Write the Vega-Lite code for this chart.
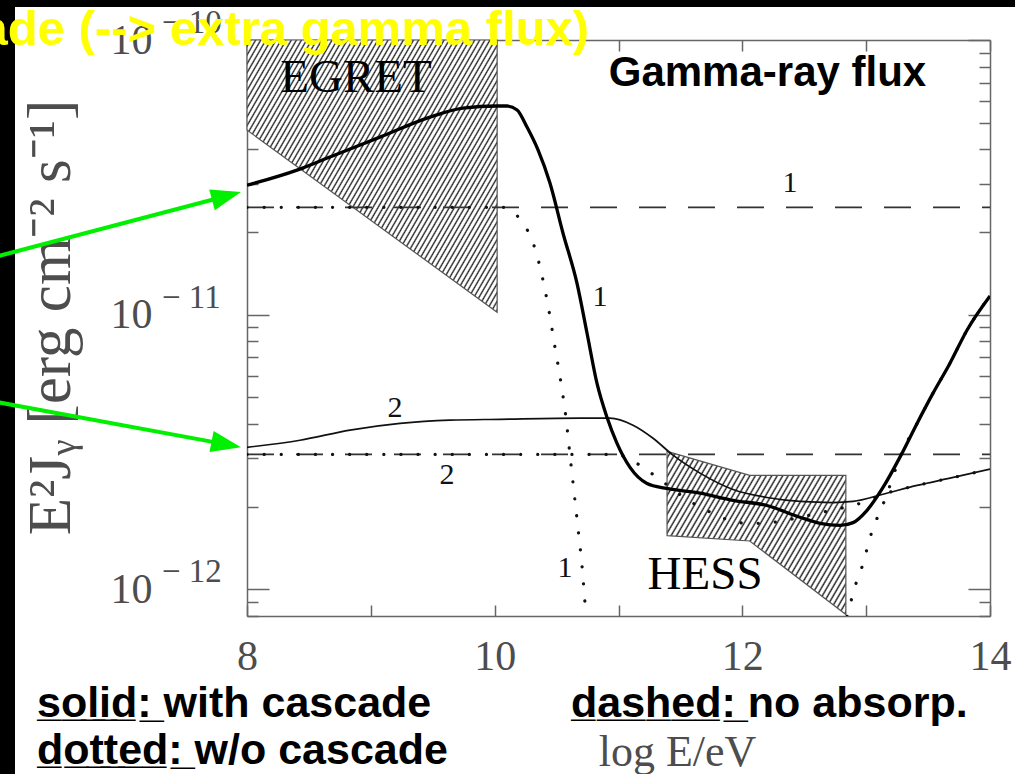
{
  "$schema": "https://vega.github.io/schema/vega-lite/v6.json",
  "width": 743,
  "height": 576,
  "autosize": "none",
  "padding": {"left": 247, "top": 40, "right": 25, "bottom": 158},
  "background": "white",
  "config": {
    "view": {"stroke": null},
    "axis": {"grid": false, "labelOverlap": false, "labelFlush": false, "domainColor": "#666666", "domainWidth": 1.5, "tickColor": "#666666", "tickWidth": 1.5}
  },
  "datasets": {
    "egret": [
      {"logE": 8.0, "lo": 4.70e-11, "hi": 1e-10},
      {"logE": 10.02, "lo": 1.02e-11, "hi": 1e-10}
    ],
    "hess": [
      {"logE": 11.392, "lo": 1.57e-12, "hi": 3.18e-12},
      {"logE": 12.06, "lo": 1.50e-12, "hi": 2.60e-12},
      {"logE": 12.836, "lo": 8.1e-13, "hi": 2.60e-12}
    ],
    "flux": [
      {"s": "noabs-1", "logE": 8.0, "flux": 2.46e-11},
      {"s": "noabs-1", "logE": 14.0, "flux": 2.46e-11},
      {"s": "noabs-2", "logE": 8.0, "flux": 3.10e-12},
      {"s": "noabs-2", "logE": 14.0, "flux": 3.10e-12},

      {"s": "cascade-1", "logE": 8.000, "flux": 2.96e-11},
      {"s": "cascade-1", "logE": 8.404, "flux": 3.36e-11},
      {"s": "cascade-1", "logE": 8.670, "flux": 3.75e-11},
      {"s": "cascade-1", "logE": 9.074, "flux": 4.43e-11},
      {"s": "cascade-1", "logE": 9.478, "flux": 5.24e-11},
      {"s": "cascade-1", "logE": 9.744, "flux": 5.65e-11},
      {"s": "cascade-1", "logE": 10.019, "flux": 5.75e-11},
      {"s": "cascade-1", "logE": 10.100, "flux": 5.75e-11},
      {"s": "cascade-1", "logE": 10.181, "flux": 5.56e-11},
      {"s": "cascade-1", "logE": 10.261, "flux": 4.82e-11},
      {"s": "cascade-1", "logE": 10.350, "flux": 3.98e-11},
      {"s": "cascade-1", "logE": 10.447, "flux": 3.01e-11},
      {"s": "cascade-1", "logE": 10.552, "flux": 1.98e-11},
      {"s": "cascade-1", "logE": 10.665, "flux": 1.30e-11},
      {"s": "cascade-1", "logE": 10.746, "flux": 8.56e-12},
      {"s": "cascade-1", "logE": 10.826, "flux": 5.63e-12},
      {"s": "cascade-1", "logE": 10.907, "flux": 4.23e-12},
      {"s": "cascade-1", "logE": 10.988, "flux": 3.40e-12},
      {"s": "cascade-1", "logE": 11.093, "flux": 2.78e-12},
      {"s": "cascade-1", "logE": 11.230, "flux": 2.43e-12},
      {"s": "cascade-1", "logE": 11.392, "flux": 2.33e-12},
      {"s": "cascade-1", "logE": 11.658, "flux": 2.24e-12},
      {"s": "cascade-1", "logE": 11.925, "flux": 2.11e-12},
      {"s": "cascade-1", "logE": 12.199, "flux": 2.02e-12},
      {"s": "cascade-1", "logE": 12.466, "flux": 1.83e-12},
      {"s": "cascade-1", "logE": 12.627, "flux": 1.74e-12},
      {"s": "cascade-1", "logE": 12.789, "flux": 1.71e-12},
      {"s": "cascade-1", "logE": 12.894, "flux": 1.75e-12},
      {"s": "cascade-1", "logE": 13.007, "flux": 1.94e-12},
      {"s": "cascade-1", "logE": 13.136, "flux": 2.35e-12},
      {"s": "cascade-1", "logE": 13.273, "flux": 3.03e-12},
      {"s": "cascade-1", "logE": 13.411, "flux": 4.02e-12},
      {"s": "cascade-1", "logE": 13.540, "flux": 5.18e-12},
      {"s": "cascade-1", "logE": 13.677, "flux": 6.66e-12},
      {"s": "cascade-1", "logE": 13.814, "flux": 8.78e-12},
      {"s": "cascade-1", "logE": 14.000, "flux": 1.17e-11},

      {"s": "cascade-2", "logE": 8.000, "flux": 3.29e-12},
      {"s": "cascade-2", "logE": 8.428, "flux": 3.49e-12},
      {"s": "cascade-2", "logE": 8.832, "flux": 3.80e-12},
      {"s": "cascade-2", "logE": 9.236, "flux": 4.02e-12},
      {"s": "cascade-2", "logE": 9.639, "flux": 4.13e-12},
      {"s": "cascade-2", "logE": 10.043, "flux": 4.16e-12},
      {"s": "cascade-2", "logE": 10.689, "flux": 4.20e-12},
      {"s": "cascade-2", "logE": 10.931, "flux": 4.20e-12},
      {"s": "cascade-2", "logE": 11.117, "flux": 3.96e-12},
      {"s": "cascade-2", "logE": 11.279, "flux": 3.55e-12},
      {"s": "cascade-2", "logE": 11.440, "flux": 3.08e-12},
      {"s": "cascade-2", "logE": 11.658, "flux": 2.65e-12},
      {"s": "cascade-2", "logE": 11.925, "flux": 2.31e-12},
      {"s": "cascade-2", "logE": 12.199, "flux": 2.16e-12},
      {"s": "cascade-2", "logE": 12.466, "flux": 2.09e-12},
      {"s": "cascade-2", "logE": 12.732, "flux": 2.07e-12},
      {"s": "cascade-2", "logE": 12.894, "flux": 2.09e-12},
      {"s": "cascade-2", "logE": 13.136, "flux": 2.22e-12},
      {"s": "cascade-2", "logE": 13.411, "flux": 2.39e-12},
      {"s": "cascade-2", "logE": 13.677, "flux": 2.54e-12},
      {"s": "cascade-2", "logE": 14.000, "flux": 2.74e-12},

      {"s": "nocascade-1a", "logE": 8.000, "flux": 2.46e-11},
      {"s": "nocascade-1a", "logE": 10.080, "flux": 2.46e-11},
      {"s": "nocascade-1a", "logE": 10.132, "flux": 2.40e-11},
      {"s": "nocascade-1a", "logE": 10.229, "flux": 2.15e-11},
      {"s": "nocascade-1a", "logE": 10.302, "flux": 1.87e-11},
      {"s": "nocascade-1a", "logE": 10.382, "flux": 1.39e-11},
      {"s": "nocascade-1a", "logE": 10.439, "flux": 1.03e-11},
      {"s": "nocascade-1a", "logE": 10.487, "flux": 7.61e-12},
      {"s": "nocascade-1a", "logE": 10.536, "flux": 5.63e-12},
      {"s": "nocascade-1a", "logE": 10.576, "flux": 4.20e-12},
      {"s": "nocascade-1a", "logE": 10.608, "flux": 3.08e-12},
      {"s": "nocascade-1a", "logE": 10.641, "flux": 2.26e-12},
      {"s": "nocascade-1a", "logE": 10.673, "flux": 1.67e-12},
      {"s": "nocascade-1a", "logE": 10.705, "flux": 1.22e-12},
      {"s": "nocascade-1a", "logE": 10.729, "flux": 8.97e-13},
      {"s": "nocascade-1a", "logE": 10.738, "flux": 7.97e-13},

      {"s": "nocascade-1b", "logE": 12.845, "flux": 7.97e-13},
      {"s": "nocascade-1b", "logE": 12.886, "flux": 9.35e-13},
      {"s": "nocascade-1b", "logE": 12.926, "flux": 1.08e-12},
      {"s": "nocascade-1b", "logE": 12.975, "flux": 1.24e-12},
      {"s": "nocascade-1b", "logE": 13.015, "flux": 1.45e-12},
      {"s": "nocascade-1b", "logE": 13.055, "flux": 1.67e-12},
      {"s": "nocascade-1b", "logE": 13.112, "flux": 1.92e-12},
      {"s": "nocascade-1b", "logE": 13.168, "flux": 2.22e-12},
      {"s": "nocascade-1b", "logE": 13.217, "flux": 2.58e-12},
      {"s": "nocascade-1b", "logE": 13.273, "flux": 3.03e-12},
      {"s": "nocascade-1b", "logE": 13.411, "flux": 4.02e-12},
      {"s": "nocascade-1b", "logE": 13.540, "flux": 5.18e-12},
      {"s": "nocascade-1b", "logE": 13.677, "flux": 6.66e-12},
      {"s": "nocascade-1b", "logE": 13.814, "flux": 8.78e-12},
      {"s": "nocascade-1b", "logE": 14.000, "flux": 1.17e-11},

      {"s": "nocascade-2", "logE": 8.000, "flux": 3.10e-12},
      {"s": "nocascade-2", "logE": 10.972, "flux": 3.10e-12},
      {"s": "nocascade-2", "logE": 11.174, "flux": 2.83e-12},
      {"s": "nocascade-2", "logE": 11.279, "flux": 2.62e-12},
      {"s": "nocascade-2", "logE": 11.376, "flux": 2.43e-12},
      {"s": "nocascade-2", "logE": 11.578, "flux": 2.09e-12},
      {"s": "nocascade-2", "logE": 11.682, "flux": 1.97e-12},
      {"s": "nocascade-2", "logE": 11.795, "flux": 1.86e-12},
      {"s": "nocascade-2", "logE": 11.900, "flux": 1.78e-12},
      {"s": "nocascade-2", "logE": 12.038, "flux": 1.74e-12},
      {"s": "nocascade-2", "logE": 12.167, "flux": 1.74e-12},
      {"s": "nocascade-2", "logE": 12.304, "flux": 1.77e-12},
      {"s": "nocascade-2", "logE": 12.466, "flux": 1.83e-12},
      {"s": "nocascade-2", "logE": 12.603, "flux": 1.89e-12},
      {"s": "nocascade-2", "logE": 12.789, "flux": 1.97e-12},
      {"s": "nocascade-2", "logE": 12.926, "flux": 2.04e-12},
      {"s": "nocascade-2", "logE": 13.136, "flux": 2.22e-12},
      {"s": "nocascade-2", "logE": 13.411, "flux": 2.39e-12},
      {"s": "nocascade-2", "logE": 13.677, "flux": 2.54e-12},
      {"s": "nocascade-2", "logE": 14.000, "flux": 2.74e-12}
    ],
    "tags": [
      {"kind": "instrument", "text": "EGRET", "logE": 8.880, "flux": 7.27e-11},
      {"kind": "instrument", "text": "HESS", "logE": 11.699, "flux": 1.13e-12},
      {"kind": "curve", "text": "1", "logE": 12.385, "flux": 3.01e-11},
      {"kind": "curve", "text": "1", "logE": 10.851, "flux": 1.16e-11},
      {"kind": "curve", "text": "2", "logE": 9.195, "flux": 4.57e-12},
      {"kind": "curve", "text": "2", "logE": 9.615, "flux": 2.60e-12},
      {"kind": "curve", "text": "1", "logE": 10.568, "flux": 1.20e-12}
    ],
    "exponents": [
      {"exp": "− 10", "v": 1e-10},
      {"exp": "− 11", "v": 1e-11},
      {"exp": "− 12", "v": 1e-12}
    ],
    "notes": [
      {"text": "s̲o̲l̲i̲d̲:̲ with cascade", "logE": 6.304, "flux": 3.445e-13},
      {"text": "d̲o̲t̲t̲e̲d̲:̲ w/o cascade", "logE": 6.304, "flux": 2.323e-13},
      {"text": "d̲a̲s̲h̲e̲d̲:̲ no absorp.", "logE": 10.6165, "flux": 3.445e-13}
    ],
    "heading": [
      {"text": "Gamma-ray flux", "logE": 12.203, "flux": 6.80e-11}
    ],
    "banner": [
      {"text": "cascade (--> extra gamma flux)", "logE": 10.762, "flux": 9.59e-11}
    ],
    "arrows": [
      {"a": "upper", "x0": 5.99, "f0": 1.633e-11, "x1": 7.8345, "f1": 2.705e-11, "xt": 7.9515, "ft": 2.794e-11},
      {"a": "lower", "x0": 5.99, "f0": 4.80e-12, "x1": 7.8328, "f1": 3.372e-12, "xt": 7.9515, "ft": 3.292e-12}
    ]
  },
  "layer": [
    {
      "data": {"name": "egret"},
      "mark": {
        "type": "area", "stroke": "#555555", "strokeWidth": 1.2,
        "fill": {
          "gradient": "linear", "x1": 0, "y1": 0, "x2": 1.168, "y2": 0.7335,
          "stops": [
            {"offset": 0, "color": "#fff"}, {"offset": 0.005, "color": "#fff"}, {"offset": 0.009, "color": "#222"},
            {"offset": 0.0125, "color": "#fff"}, {"offset": 0.0175, "color": "#fff"}, {"offset": 0.0215, "color": "#222"},
            {"offset": 0.025, "color": "#fff"}, {"offset": 0.03, "color": "#fff"}, {"offset": 0.034, "color": "#222"},
            {"offset": 0.0375, "color": "#fff"}, {"offset": 0.0425, "color": "#fff"}, {"offset": 0.0465, "color": "#222"},
            {"offset": 0.05, "color": "#fff"}, {"offset": 0.055, "color": "#fff"}, {"offset": 0.059, "color": "#222"},
            {"offset": 0.0625, "color": "#fff"}, {"offset": 0.0675, "color": "#fff"}, {"offset": 0.0715, "color": "#222"},
            {"offset": 0.075, "color": "#fff"}, {"offset": 0.08, "color": "#fff"}, {"offset": 0.084, "color": "#222"},
            {"offset": 0.0875, "color": "#fff"}, {"offset": 0.0925, "color": "#fff"}, {"offset": 0.0965, "color": "#222"},
            {"offset": 0.1, "color": "#fff"}, {"offset": 0.105, "color": "#fff"}, {"offset": 0.109, "color": "#222"},
            {"offset": 0.1125, "color": "#fff"}, {"offset": 0.1175, "color": "#fff"}, {"offset": 0.1215, "color": "#222"},
            {"offset": 0.125, "color": "#fff"}, {"offset": 0.13, "color": "#fff"}, {"offset": 0.134, "color": "#222"},
            {"offset": 0.1375, "color": "#fff"}, {"offset": 0.1425, "color": "#fff"}, {"offset": 0.1465, "color": "#222"},
            {"offset": 0.15, "color": "#fff"}, {"offset": 0.155, "color": "#fff"}, {"offset": 0.159, "color": "#222"},
            {"offset": 0.1625, "color": "#fff"}, {"offset": 0.1675, "color": "#fff"}, {"offset": 0.1715, "color": "#222"},
            {"offset": 0.175, "color": "#fff"}, {"offset": 0.18, "color": "#fff"}, {"offset": 0.184, "color": "#222"},
            {"offset": 0.1875, "color": "#fff"}, {"offset": 0.1925, "color": "#fff"}, {"offset": 0.1965, "color": "#222"},
            {"offset": 0.2, "color": "#fff"}, {"offset": 0.205, "color": "#fff"}, {"offset": 0.209, "color": "#222"},
            {"offset": 0.2125, "color": "#fff"}, {"offset": 0.2175, "color": "#fff"}, {"offset": 0.2215, "color": "#222"},
            {"offset": 0.225, "color": "#fff"}, {"offset": 0.23, "color": "#fff"}, {"offset": 0.234, "color": "#222"},
            {"offset": 0.2375, "color": "#fff"}, {"offset": 0.2425, "color": "#fff"}, {"offset": 0.2465, "color": "#222"},
            {"offset": 0.25, "color": "#fff"}, {"offset": 0.255, "color": "#fff"}, {"offset": 0.259, "color": "#222"},
            {"offset": 0.2625, "color": "#fff"}, {"offset": 0.2675, "color": "#fff"}, {"offset": 0.2715, "color": "#222"},
            {"offset": 0.275, "color": "#fff"}, {"offset": 0.28, "color": "#fff"}, {"offset": 0.284, "color": "#222"},
            {"offset": 0.2875, "color": "#fff"}, {"offset": 0.2925, "color": "#fff"}, {"offset": 0.2965, "color": "#222"},
            {"offset": 0.3, "color": "#fff"}, {"offset": 0.305, "color": "#fff"}, {"offset": 0.309, "color": "#222"},
            {"offset": 0.3125, "color": "#fff"}, {"offset": 0.3175, "color": "#fff"}, {"offset": 0.3215, "color": "#222"},
            {"offset": 0.325, "color": "#fff"}, {"offset": 0.33, "color": "#fff"}, {"offset": 0.334, "color": "#222"},
            {"offset": 0.3375, "color": "#fff"}, {"offset": 0.3425, "color": "#fff"}, {"offset": 0.3465, "color": "#222"},
            {"offset": 0.35, "color": "#fff"}, {"offset": 0.355, "color": "#fff"}, {"offset": 0.359, "color": "#222"},
            {"offset": 0.3625, "color": "#fff"}, {"offset": 0.3675, "color": "#fff"}, {"offset": 0.3715, "color": "#222"},
            {"offset": 0.375, "color": "#fff"}, {"offset": 0.38, "color": "#fff"}, {"offset": 0.384, "color": "#222"},
            {"offset": 0.3875, "color": "#fff"}, {"offset": 0.3925, "color": "#fff"}, {"offset": 0.3965, "color": "#222"},
            {"offset": 0.4, "color": "#fff"}, {"offset": 0.405, "color": "#fff"}, {"offset": 0.409, "color": "#222"},
            {"offset": 0.4125, "color": "#fff"}, {"offset": 0.4175, "color": "#fff"}, {"offset": 0.4215, "color": "#222"},
            {"offset": 0.425, "color": "#fff"}, {"offset": 0.43, "color": "#fff"}, {"offset": 0.434, "color": "#222"},
            {"offset": 0.4375, "color": "#fff"}, {"offset": 0.4425, "color": "#fff"}, {"offset": 0.4465, "color": "#222"},
            {"offset": 0.45, "color": "#fff"}, {"offset": 0.455, "color": "#fff"}, {"offset": 0.459, "color": "#222"},
            {"offset": 0.4625, "color": "#fff"}, {"offset": 0.4675, "color": "#fff"}, {"offset": 0.4715, "color": "#222"},
            {"offset": 0.475, "color": "#fff"}, {"offset": 0.48, "color": "#fff"}, {"offset": 0.484, "color": "#222"},
            {"offset": 0.4875, "color": "#fff"}, {"offset": 0.4925, "color": "#fff"}, {"offset": 0.4965, "color": "#222"},
            {"offset": 0.5, "color": "#fff"}, {"offset": 0.505, "color": "#fff"}, {"offset": 0.509, "color": "#222"},
            {"offset": 0.5125, "color": "#fff"}, {"offset": 0.5175, "color": "#fff"}, {"offset": 0.5215, "color": "#222"},
            {"offset": 0.525, "color": "#fff"}, {"offset": 0.53, "color": "#fff"}, {"offset": 0.534, "color": "#222"},
            {"offset": 0.5375, "color": "#fff"}, {"offset": 0.5425, "color": "#fff"}, {"offset": 0.5465, "color": "#222"},
            {"offset": 0.55, "color": "#fff"}, {"offset": 0.555, "color": "#fff"}, {"offset": 0.559, "color": "#222"},
            {"offset": 0.5625, "color": "#fff"}, {"offset": 0.5675, "color": "#fff"}, {"offset": 0.5715, "color": "#222"},
            {"offset": 0.575, "color": "#fff"}, {"offset": 0.58, "color": "#fff"}, {"offset": 0.584, "color": "#222"},
            {"offset": 0.5875, "color": "#fff"}, {"offset": 0.5925, "color": "#fff"}, {"offset": 0.5965, "color": "#222"},
            {"offset": 0.6, "color": "#fff"}, {"offset": 0.605, "color": "#fff"}, {"offset": 0.609, "color": "#222"},
            {"offset": 0.6125, "color": "#fff"}, {"offset": 0.6175, "color": "#fff"}, {"offset": 0.6215, "color": "#222"},
            {"offset": 0.625, "color": "#fff"}, {"offset": 0.63, "color": "#fff"}, {"offset": 0.634, "color": "#222"},
            {"offset": 0.6375, "color": "#fff"}, {"offset": 0.6425, "color": "#fff"}, {"offset": 0.6465, "color": "#222"},
            {"offset": 0.65, "color": "#fff"}, {"offset": 0.655, "color": "#fff"}, {"offset": 0.659, "color": "#222"},
            {"offset": 0.6625, "color": "#fff"}, {"offset": 0.6675, "color": "#fff"}, {"offset": 0.6715, "color": "#222"},
            {"offset": 0.675, "color": "#fff"}, {"offset": 0.68, "color": "#fff"}, {"offset": 0.684, "color": "#222"},
            {"offset": 0.6875, "color": "#fff"}, {"offset": 0.6925, "color": "#fff"}, {"offset": 0.6965, "color": "#222"},
            {"offset": 0.7, "color": "#fff"}, {"offset": 0.705, "color": "#fff"}, {"offset": 0.709, "color": "#222"},
            {"offset": 0.7125, "color": "#fff"}, {"offset": 0.7175, "color": "#fff"}, {"offset": 0.7215, "color": "#222"},
            {"offset": 0.725, "color": "#fff"}, {"offset": 0.73, "color": "#fff"}, {"offset": 0.734, "color": "#222"},
            {"offset": 0.7375, "color": "#fff"}, {"offset": 0.7425, "color": "#fff"}, {"offset": 0.7465, "color": "#222"},
            {"offset": 0.75, "color": "#fff"}, {"offset": 0.755, "color": "#fff"}, {"offset": 0.759, "color": "#222"},
            {"offset": 0.7625, "color": "#fff"}, {"offset": 0.7675, "color": "#fff"}, {"offset": 0.7715, "color": "#222"},
            {"offset": 0.775, "color": "#fff"}, {"offset": 0.78, "color": "#fff"}, {"offset": 0.784, "color": "#222"},
            {"offset": 0.7875, "color": "#fff"}, {"offset": 0.7925, "color": "#fff"}, {"offset": 0.7965, "color": "#222"},
            {"offset": 0.8, "color": "#fff"}, {"offset": 0.805, "color": "#fff"}, {"offset": 0.809, "color": "#222"},
            {"offset": 0.8125, "color": "#fff"}, {"offset": 0.8175, "color": "#fff"}, {"offset": 0.8215, "color": "#222"},
            {"offset": 0.825, "color": "#fff"}, {"offset": 0.83, "color": "#fff"}, {"offset": 0.834, "color": "#222"},
            {"offset": 0.8375, "color": "#fff"}, {"offset": 0.8425, "color": "#fff"}, {"offset": 0.8465, "color": "#222"},
            {"offset": 0.85, "color": "#fff"}, {"offset": 0.855, "color": "#fff"}, {"offset": 0.859, "color": "#222"},
            {"offset": 0.8625, "color": "#fff"}, {"offset": 0.8675, "color": "#fff"}, {"offset": 0.8715, "color": "#222"},
            {"offset": 0.875, "color": "#fff"}, {"offset": 0.88, "color": "#fff"}, {"offset": 0.884, "color": "#222"},
            {"offset": 0.8875, "color": "#fff"}, {"offset": 0.8925, "color": "#fff"}, {"offset": 0.8965, "color": "#222"},
            {"offset": 0.9, "color": "#fff"}, {"offset": 0.905, "color": "#fff"}, {"offset": 0.909, "color": "#222"},
            {"offset": 0.9125, "color": "#fff"}, {"offset": 0.9175, "color": "#fff"}, {"offset": 0.9215, "color": "#222"},
            {"offset": 0.925, "color": "#fff"}, {"offset": 0.93, "color": "#fff"}, {"offset": 0.934, "color": "#222"},
            {"offset": 0.9375, "color": "#fff"}, {"offset": 0.9425, "color": "#fff"}, {"offset": 0.9465, "color": "#222"},
            {"offset": 0.95, "color": "#fff"}, {"offset": 0.955, "color": "#fff"}, {"offset": 0.959, "color": "#222"},
            {"offset": 0.9625, "color": "#fff"}, {"offset": 0.9675, "color": "#fff"}, {"offset": 0.9715, "color": "#222"},
            {"offset": 0.975, "color": "#fff"}, {"offset": 0.98, "color": "#fff"}, {"offset": 0.984, "color": "#222"},
            {"offset": 0.9875, "color": "#fff"}, {"offset": 0.9925, "color": "#fff"}, {"offset": 0.9965, "color": "#222"},
            {"offset": 1, "color": "#fff"}
          ]
        }
      },
      "encoding": {
        "x": {
          "field": "logE", "type": "quantitative",
          "scale": {"domain": [8, 14], "nice": false, "zero": false},
          "axis": {
            "orient": "bottom", "values": [8, 9, 10, 11, 12, 13, 14],
            "labelExpr": "datum.value % 2 == 0 ? datum.label : ''",
            "tickSize": -11, "labelPadding": 31,
            "labelFont": "Liberation Serif", "labelFontSize": 42, "labelColor": "#4d4d4d",
            "title": "log E/eV", "titleFont": "Liberation Serif", "titleFontSize": 44, "titleFontWeight": "normal",
            "titleColor": "#4d4d4d", "titleX": 430, "titleY": 136, "titleAlign": "center", "titleBaseline": "middle", "titleAnchor": null
          }
        },
        "y": {
          "field": "lo", "type": "quantitative",
          "scale": {"type": "log", "domain": [8e-13, 1e-10], "nice": false},
          "axis": {
            "orient": "left",
            "values": [8e-13, 9e-13, 1e-12, 2e-12, 3e-12, 4e-12, 5e-12, 6e-12, 7e-12, 8e-12, 9e-12, 1e-11, 2e-11, 3e-11, 4e-11, 5e-11, 6e-11, 7e-11, 8e-11, 9e-11, 1e-10],
            "labelExpr": "abs(log(datum.value)/LN10 - round(log(datum.value)/LN10)) < 0.001 ? '10' : ''",
            "tickSize": {"condition": {"test": "abs(log(datum.value)/LN10 - round(log(datum.value)/LN10)) < 0.001", "value": -22}, "value": -11},
            "labelPadding": 117,
            "labelFont": "Liberation Serif", "labelFontSize": 42, "labelColor": "#4d4d4d", "labelBaseline": "middle",
            "title": "E²Jᵧ [erg cm⁻² s⁻¹]", "titleFont": "Liberation Serif", "titleFontSize": 61, "titleFontWeight": "normal",
            "titleColor": "#4d4d4d", "titleX": -196, "titleY": 277, "titleAngle": 270, "titleAlign": "center", "titleBaseline": "middle", "titleAnchor": null
          }
        },
        "y2": {"field": "hi"}
      }
    },
    {
      "data": {"name": "hess"},
      "mark": {
        "type": "area", "stroke": "#555555", "strokeWidth": 1.2,
        "fill": {
          "gradient": "linear", "x1": 0, "y1": 0, "x2": 1.1941, "y2": 0.6349,
          "stops": [
            {"offset": 0, "color": "#fff"}, {"offset": 0.008, "color": "#fff"}, {"offset": 0.0145, "color": "#222"},
            {"offset": 0.02, "color": "#fff"}, {"offset": 0.028, "color": "#fff"}, {"offset": 0.0345, "color": "#222"},
            {"offset": 0.04, "color": "#fff"}, {"offset": 0.048, "color": "#fff"}, {"offset": 0.0545, "color": "#222"},
            {"offset": 0.06, "color": "#fff"}, {"offset": 0.068, "color": "#fff"}, {"offset": 0.0745, "color": "#222"},
            {"offset": 0.08, "color": "#fff"}, {"offset": 0.088, "color": "#fff"}, {"offset": 0.0945, "color": "#222"},
            {"offset": 0.1, "color": "#fff"}, {"offset": 0.108, "color": "#fff"}, {"offset": 0.1145, "color": "#222"},
            {"offset": 0.12, "color": "#fff"}, {"offset": 0.128, "color": "#fff"}, {"offset": 0.1345, "color": "#222"},
            {"offset": 0.14, "color": "#fff"}, {"offset": 0.148, "color": "#fff"}, {"offset": 0.1545, "color": "#222"},
            {"offset": 0.16, "color": "#fff"}, {"offset": 0.168, "color": "#fff"}, {"offset": 0.1745, "color": "#222"},
            {"offset": 0.18, "color": "#fff"}, {"offset": 0.188, "color": "#fff"}, {"offset": 0.1945, "color": "#222"},
            {"offset": 0.2, "color": "#fff"}, {"offset": 0.208, "color": "#fff"}, {"offset": 0.2145, "color": "#222"},
            {"offset": 0.22, "color": "#fff"}, {"offset": 0.228, "color": "#fff"}, {"offset": 0.2345, "color": "#222"},
            {"offset": 0.24, "color": "#fff"}, {"offset": 0.248, "color": "#fff"}, {"offset": 0.2545, "color": "#222"},
            {"offset": 0.26, "color": "#fff"}, {"offset": 0.268, "color": "#fff"}, {"offset": 0.2745, "color": "#222"},
            {"offset": 0.28, "color": "#fff"}, {"offset": 0.288, "color": "#fff"}, {"offset": 0.2945, "color": "#222"},
            {"offset": 0.3, "color": "#fff"}, {"offset": 0.308, "color": "#fff"}, {"offset": 0.3145, "color": "#222"},
            {"offset": 0.32, "color": "#fff"}, {"offset": 0.328, "color": "#fff"}, {"offset": 0.3345, "color": "#222"},
            {"offset": 0.34, "color": "#fff"}, {"offset": 0.348, "color": "#fff"}, {"offset": 0.3545, "color": "#222"},
            {"offset": 0.36, "color": "#fff"}, {"offset": 0.368, "color": "#fff"}, {"offset": 0.3745, "color": "#222"},
            {"offset": 0.38, "color": "#fff"}, {"offset": 0.388, "color": "#fff"}, {"offset": 0.3945, "color": "#222"},
            {"offset": 0.4, "color": "#fff"}, {"offset": 0.408, "color": "#fff"}, {"offset": 0.4145, "color": "#222"},
            {"offset": 0.42, "color": "#fff"}, {"offset": 0.428, "color": "#fff"}, {"offset": 0.4345, "color": "#222"},
            {"offset": 0.44, "color": "#fff"}, {"offset": 0.448, "color": "#fff"}, {"offset": 0.4545, "color": "#222"},
            {"offset": 0.46, "color": "#fff"}, {"offset": 0.468, "color": "#fff"}, {"offset": 0.4745, "color": "#222"},
            {"offset": 0.48, "color": "#fff"}, {"offset": 0.488, "color": "#fff"}, {"offset": 0.4945, "color": "#222"},
            {"offset": 0.5, "color": "#fff"}, {"offset": 0.508, "color": "#fff"}, {"offset": 0.5145, "color": "#222"},
            {"offset": 0.52, "color": "#fff"}, {"offset": 0.528, "color": "#fff"}, {"offset": 0.5345, "color": "#222"},
            {"offset": 0.54, "color": "#fff"}, {"offset": 0.548, "color": "#fff"}, {"offset": 0.5545, "color": "#222"},
            {"offset": 0.56, "color": "#fff"}, {"offset": 0.568, "color": "#fff"}, {"offset": 0.5745, "color": "#222"},
            {"offset": 0.58, "color": "#fff"}, {"offset": 0.588, "color": "#fff"}, {"offset": 0.5945, "color": "#222"},
            {"offset": 0.6, "color": "#fff"}, {"offset": 0.608, "color": "#fff"}, {"offset": 0.6145, "color": "#222"},
            {"offset": 0.62, "color": "#fff"}, {"offset": 0.628, "color": "#fff"}, {"offset": 0.6345, "color": "#222"},
            {"offset": 0.64, "color": "#fff"}, {"offset": 0.648, "color": "#fff"}, {"offset": 0.6545, "color": "#222"},
            {"offset": 0.66, "color": "#fff"}, {"offset": 0.668, "color": "#fff"}, {"offset": 0.6745, "color": "#222"},
            {"offset": 0.68, "color": "#fff"}, {"offset": 0.688, "color": "#fff"}, {"offset": 0.6945, "color": "#222"},
            {"offset": 0.7, "color": "#fff"}, {"offset": 0.708, "color": "#fff"}, {"offset": 0.7145, "color": "#222"},
            {"offset": 0.72, "color": "#fff"}, {"offset": 0.728, "color": "#fff"}, {"offset": 0.7345, "color": "#222"},
            {"offset": 0.74, "color": "#fff"}, {"offset": 0.748, "color": "#fff"}, {"offset": 0.7545, "color": "#222"},
            {"offset": 0.76, "color": "#fff"}, {"offset": 0.768, "color": "#fff"}, {"offset": 0.7745, "color": "#222"},
            {"offset": 0.78, "color": "#fff"}, {"offset": 0.788, "color": "#fff"}, {"offset": 0.7945, "color": "#222"},
            {"offset": 0.8, "color": "#fff"}, {"offset": 0.808, "color": "#fff"}, {"offset": 0.8145, "color": "#222"},
            {"offset": 0.82, "color": "#fff"}, {"offset": 0.828, "color": "#fff"}, {"offset": 0.8345, "color": "#222"},
            {"offset": 0.84, "color": "#fff"}, {"offset": 0.848, "color": "#fff"}, {"offset": 0.8545, "color": "#222"},
            {"offset": 0.86, "color": "#fff"}, {"offset": 0.868, "color": "#fff"}, {"offset": 0.8745, "color": "#222"},
            {"offset": 0.88, "color": "#fff"}, {"offset": 0.888, "color": "#fff"}, {"offset": 0.8945, "color": "#222"},
            {"offset": 0.9, "color": "#fff"}, {"offset": 0.908, "color": "#fff"}, {"offset": 0.9145, "color": "#222"},
            {"offset": 0.92, "color": "#fff"}, {"offset": 0.928, "color": "#fff"}, {"offset": 0.9345, "color": "#222"},
            {"offset": 0.94, "color": "#fff"}, {"offset": 0.948, "color": "#fff"}, {"offset": 0.9545, "color": "#222"},
            {"offset": 0.96, "color": "#fff"}, {"offset": 0.968, "color": "#fff"}, {"offset": 0.9745, "color": "#222"},
            {"offset": 0.98, "color": "#fff"}, {"offset": 0.988, "color": "#fff"}, {"offset": 0.9945, "color": "#222"},
            {"offset": 1, "color": "#fff"}
          ]
        }
      },
      "encoding": {
        "x": {
          "field": "logE", "type": "quantitative",
          "axis": {"orient": "top", "values": [8, 9, 10, 11, 12, 13, 14], "labels": false, "tickSize": -11, "title": null}
        },
        "y": {
          "field": "lo", "type": "quantitative",
          "axis": {
            "orient": "right", "labels": false, "title": null,
            "values": [8e-13, 9e-13, 1e-12, 2e-12, 3e-12, 4e-12, 5e-12, 6e-12, 7e-12, 8e-12, 9e-12, 1e-11, 2e-11, 3e-11, 4e-11, 5e-11, 6e-11, 7e-11, 8e-11, 9e-11, 1e-10],
            "tickSize": {"condition": {"test": "abs(log(datum.value)/LN10 - round(log(datum.value)/LN10)) < 0.001", "value": -22}, "value": -11}
          }
        },
        "y2": {"field": "hi"}
      }
    },
    {
      "data": {"name": "flux"},
      "transform": [{"filter": "indexof(datum.s, 'noabs') == 0"}],
      "mark": {"type": "line", "color": "#333333", "strokeWidth": 1.8, "strokeDash": [27, 22], "clip": true},
      "encoding": {
        "x": {"field": "logE", "type": "quantitative", "axis": null},
        "y": {"field": "flux", "type": "quantitative", "axis": null},
        "detail": {"field": "s"}
      }
    },
    {
      "data": {"name": "flux"},
      "transform": [{"filter": "indexof(datum.s, 'nocascade') == 0"}],
      "mark": {"type": "line", "color": "#111111", "strokeWidth": 3.2, "strokeDash": [0.1, 17], "strokeCap": "round", "interpolate": "monotone", "clip": true},
      "encoding": {
        "x": {"field": "logE", "type": "quantitative", "axis": null},
        "y": {"field": "flux", "type": "quantitative", "axis": null},
        "detail": {"field": "s"}
      }
    },
    {
      "data": {"name": "flux"},
      "transform": [{"filter": "datum.s == 'cascade-2'"}],
      "mark": {"type": "line", "color": "#111111", "strokeWidth": 1.7, "interpolate": "monotone", "clip": true},
      "encoding": {
        "x": {"field": "logE", "type": "quantitative", "axis": null},
        "y": {"field": "flux", "type": "quantitative", "axis": null}
      }
    },
    {
      "data": {"name": "flux"},
      "transform": [{"filter": "datum.s == 'cascade-1'"}],
      "mark": {"type": "line", "color": "#000000", "strokeWidth": 3.3, "interpolate": "monotone", "clip": true},
      "encoding": {
        "x": {"field": "logE", "type": "quantitative", "axis": null},
        "y": {"field": "flux", "type": "quantitative", "axis": null}
      }
    },
    {
      "data": {"name": "tags"},
      "transform": [{"filter": "datum.kind == 'instrument'"}],
      "mark": {"type": "text", "font": "Liberation Serif", "fontSize": 47, "color": "#000000", "align": "center", "baseline": "middle"},
      "encoding": {
        "x": {"field": "logE", "type": "quantitative", "axis": null},
        "y": {"field": "flux", "type": "quantitative", "axis": null},
        "text": {"field": "text"}
      }
    },
    {
      "data": {"name": "tags"},
      "transform": [{"filter": "datum.kind == 'curve'"}],
      "mark": {"type": "text", "font": "Liberation Serif", "fontSize": 30, "color": "#111111", "align": "center", "baseline": "middle"},
      "encoding": {
        "x": {"field": "logE", "type": "quantitative", "axis": null},
        "y": {"field": "flux", "type": "quantitative", "axis": null},
        "text": {"field": "text"}
      }
    },
    {
      "data": {"name": "exponents"},
      "mark": {"type": "text", "font": "Liberation Serif", "fontSize": 33, "color": "#4d4d4d", "align": "left", "baseline": "middle", "dx": -85, "dy": -17},
      "encoding": {
        "x": {"datum": 8, "type": "quantitative", "axis": null},
        "y": {"field": "v", "type": "quantitative", "axis": null},
        "text": {"field": "exp"}
      }
    },
    {
      "data": {"name": "heading"},
      "mark": {"type": "text", "font": "Liberation Sans", "fontWeight": "bold", "fontSize": 42, "color": "#000000", "align": "center", "baseline": "alphabetic"},
      "encoding": {
        "x": {"field": "logE", "type": "quantitative", "axis": null},
        "y": {"field": "flux", "type": "quantitative", "axis": null},
        "text": {"field": "text"}
      }
    },
    {
      "data": {"values": [{}]},
      "mark": {"type": "rect", "color": "#000000"},
      "encoding": {
        "x": {"datum": 5.9, "type": "quantitative", "axis": null},
        "x2": {"datum": 6.1265},
        "y": {"datum": 1e-13, "type": "quantitative", "axis": null},
        "y2": {"datum": 3.2e-10}
      }
    },
    {
      "data": {"values": [{}]},
      "mark": {"type": "rect", "color": "#000000"},
      "encoding": {
        "x": {"datum": 5.9, "type": "quantitative", "axis": null},
        "x2": {"datum": 14.3},
        "y": {"datum": 1.318e-10, "type": "quantitative", "axis": null},
        "y2": {"datum": 3.2e-10}
      }
    },
    {
      "data": {"name": "arrows"},
      "mark": {"type": "rule", "color": "#00f000", "strokeWidth": 4},
      "encoding": {
        "x": {"field": "x0", "type": "quantitative", "axis": null},
        "y": {"field": "f0", "type": "quantitative", "axis": null},
        "x2": {"field": "x1"},
        "y2": {"field": "f1"}
      }
    },
    {
      "data": {"name": "arrows"},
      "transform": [{"filter": "datum.a == 'upper'"}],
      "mark": {"type": "point", "shape": "M0,0L-2,-0.72L-2,0.72Z", "size": 900, "filled": true, "opacity": 1, "color": "#00f000", "angle": -14.9},
      "encoding": {
        "x": {"field": "xt", "type": "quantitative", "axis": null},
        "y": {"field": "ft", "type": "quantitative", "axis": null}
      }
    },
    {
      "data": {"name": "arrows"},
      "transform": [{"filter": "datum.a == 'lower'"}],
      "mark": {"type": "point", "shape": "M0,0L-2,-0.72L-2,0.72Z", "size": 900, "filled": true, "opacity": 1, "color": "#00f000", "angle": 11.0},
      "encoding": {
        "x": {"field": "xt", "type": "quantitative", "axis": null},
        "y": {"field": "ft", "type": "quantitative", "axis": null}
      }
    },
    {
      "data": {"name": "banner"},
      "mark": {"type": "text", "font": "Liberation Sans", "fontWeight": "bold", "fontSize": 49, "color": "#ffff00", "align": "right", "baseline": "alphabetic"},
      "encoding": {
        "x": {"field": "logE", "type": "quantitative", "axis": null},
        "y": {"field": "flux", "type": "quantitative", "axis": null},
        "text": {"field": "text"}
      }
    },
    {
      "data": {"name": "notes"},
      "mark": {"type": "text", "font": "Liberation Sans", "fontWeight": "bold", "fontSize": 43, "color": "#000000", "align": "left", "baseline": "alphabetic"},
      "encoding": {
        "x": {"field": "logE", "type": "quantitative", "axis": null},
        "y": {"field": "flux", "type": "quantitative", "axis": null},
        "text": {"field": "text"}
      }
    }
  ],
  "resolve": {"axis": {"x": "independent", "y": "independent"}}
}
